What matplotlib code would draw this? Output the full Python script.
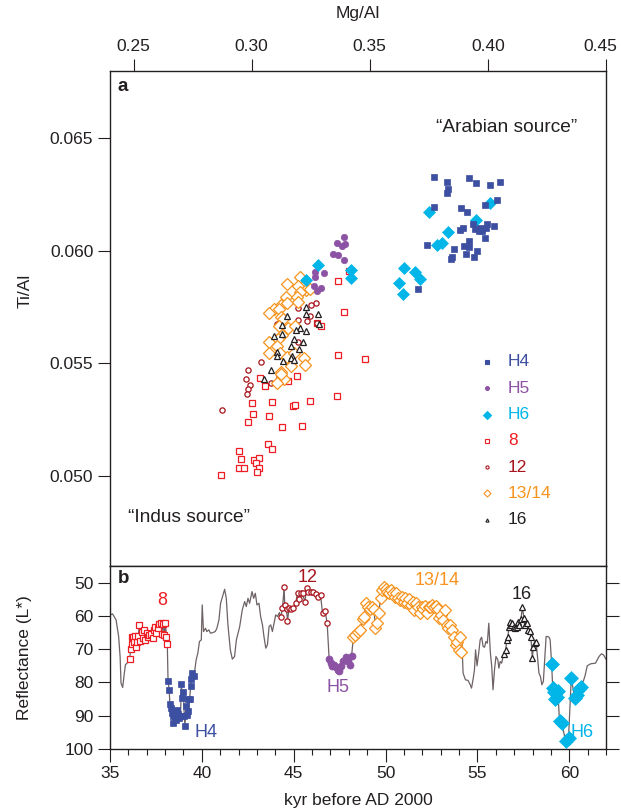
import matplotlib
matplotlib.use("Agg")
import matplotlib.pyplot as plt
import matplotlib.transforms as mtransforms
from matplotlib.ticker import MultipleLocator

plt.rcParams['font.family'] = ['Liberation Sans', 'DejaVu Sans']
plt.rcParams['font.size'] = 12.5

# colours for each group
c_h4 = '#3D4FA1'
c_h5 = '#8C52A3'
c_h6 = '#00B5E8'
c_8 = '#EE1D23'
c_12 = '#A8141C'
c_1314 = '#F7931E'
c_16 = '#231F20'
c_line = '#6D6264'
c_ink = '#231F20'

# ---- panel a: Mg/Al vs Ti/Al ----
h4_mg = [0.3773, 0.3827, 0.3831, 0.3825, 0.3922, 0.3951, 0.4007, 0.4050, 0.3773, 0.3884, 0.3913, 0.3989,
         0.4040, 0.3937, 0.3894, 0.3880, 0.3947, 0.3968, 0.3975, 0.3961, 0.3996, 0.3993, 0.4027, 0.3986,
         0.3918, 0.3897, 0.3922, 0.3744, 0.3855, 0.3955, 0.3908, 0.3942, 0.3848, 0.3845, 0.3702]
h4_ti = [0.0633, 0.06307, 0.06276, 0.06258, 0.06323, 0.0630, 0.06294, 0.06307, 0.06196, 0.0619, 0.06174, 0.06203,
         0.06227, 0.06117, 0.06103, 0.06092, 0.06095, 0.06103, 0.06087, 0.06087, 0.0612, 0.06103, 0.06111, 0.06059,
         0.06042, 0.06022, 0.06018, 0.06025, 0.0601, 0.05997, 0.05985, 0.05973, 0.05973, 0.05963, 0.05831]

h5_mg = [0.3389, 0.3361, 0.3393, 0.3382, 0.3346, 0.3365, 0.3392, 0.3266, 0.3307, 0.3269, 0.3262, 0.3293, 0.3277]
h5_ti = [0.06062, 0.06036, 0.06031, 0.06021, 0.05988, 0.05982, 0.05961, 0.05907, 0.05902, 0.05883, 0.05843,
         0.05835, 0.0582]

h6_mg = [0.3752, 0.3831, 0.3784, 0.3807, 0.3948, 0.4007, 0.3643, 0.3692, 0.3711, 0.3625, 0.3639, 0.3280,
         0.3228, 0.3421, 0.3421]
h6_ti = [0.06174, 0.06082, 0.06028, 0.06036, 0.06139, 0.06214, 0.05924, 0.05907, 0.05876, 0.05855, 0.05809,
         0.05935, 0.05872, 0.05914, 0.05878]

s8_mg = [0.3365, 0.3392, 0.3294, 0.3278, 0.3365, 0.3192, 0.3153, 0.3058, 0.3033, 0.3361, 0.3002, 0.3086,
         0.3174, 0.3184, 0.3245, 0.3006, 0.3075, 0.2985, 0.3128, 0.3215, 0.3071, 0.3086, 0.2948, 0.2955,
         0.3010, 0.3031, 0.3017, 0.2948, 0.2967, 0.3031, 0.3024, 0.2870, 0.3478, 0.3413]
s8_ti = [0.05865, 0.05727, 0.05665, 0.0568, 0.05535, 0.05442, 0.05421, 0.05401, 0.05433, 0.05353, 0.05326,
         0.05328, 0.05312, 0.05313, 0.05331, 0.05276, 0.05267, 0.0524, 0.05219, 0.05224, 0.05141, 0.05119,
         0.05111, 0.05077, 0.05071, 0.05081, 0.05056, 0.05037, 0.05037, 0.05034, 0.05018, 0.05003, 0.05518,
         0.05909]

s12_mg = [0.3274, 0.3252, 0.3195, 0.3245, 0.3232, 0.3198, 0.3108, 0.3276, 0.3194, 0.3041, 0.2985, 0.2976,
          0.2993, 0.2983, 0.2979, 0.3115, 0.3083, 0.2876]
s12_ti = [0.05769, 0.0576, 0.05745, 0.05709, 0.0569, 0.05694, 0.05675, 0.0568, 0.05596, 0.05506, 0.0547,
          0.0543, 0.05405, 0.05387, 0.05364, 0.05439, 0.05415, 0.05295]

s1314_mg = [0.3151, 0.3205, 0.3194, 0.3231, 0.3247, 0.3205, 0.3146, 0.3191, 0.3126, 0.3151, 0.3194, 0.3095,
            0.3115, 0.3075, 0.3123, 0.3134, 0.3117, 0.3153, 0.3184, 0.3129, 0.3113, 0.3072, 0.3109, 0.3075,
            0.3120, 0.3151, 0.3180, 0.3222, 0.3226, 0.3166, 0.3125, 0.3137, 0.3106, 0.3123]
s1314_ti = [0.05853, 0.05884, 0.05843, 0.05828, 0.0583, 0.05816, 0.05795, 0.05795, 0.0576, 0.05769, 0.05771,
            0.05742, 0.05742, 0.05722, 0.05706, 0.05697, 0.05665, 0.05657, 0.05668, 0.05626, 0.05608, 0.05593,
            0.05579, 0.05546, 0.05546, 0.05528, 0.05546, 0.05524, 0.05491, 0.05487, 0.05462, 0.0543, 0.05413,
            0.05454]

s16_mg = [0.3231, 0.3231, 0.3281, 0.3151, 0.3284, 0.3129, 0.3205, 0.3189, 0.3228, 0.3094, 0.3129, 0.3180,
          0.3219, 0.3167, 0.3202, 0.3106, 0.3108, 0.3171, 0.3167, 0.3181, 0.3133, 0.3083, 0.3050]
s16_ti = [0.05749, 0.0572, 0.0572, 0.05712, 0.05675, 0.05671, 0.05657, 0.0565, 0.05642, 0.05623, 0.05631,
          0.05608, 0.05596, 0.05576, 0.05564, 0.05549, 0.05531, 0.05531, 0.05524, 0.05516, 0.05509, 0.0547,
          0.05432]

# ---- panel b: reflectance record ----
gray_age = [35.00, 35.14, 35.33, 35.47, 35.55, 35.60, 35.69, 35.78, 35.84, 35.96, 36.03,
            39.69, 39.78, 39.87, 39.97, 40.02, 40.09, 40.20, 40.27, 40.38, 40.47, 40.60, 40.73, 40.82, 40.93,
            41.02, 41.15, 41.24, 41.33, 41.42, 41.55, 41.66, 41.78, 41.88, 42.06, 42.20, 42.33, 42.42, 42.51,
            42.60, 42.73, 42.82, 42.91, 43.00, 43.11, 43.20, 43.30, 43.38, 43.48, 43.57, 43.66, 43.75, 43.84,
            43.93, 44.02, 44.12, 44.22,
            54.16, 54.22, 54.35, 54.49, 54.61, 54.68, 54.76, 54.84, 54.90, 54.98, 55.07, 55.15, 55.23, 55.31,
            55.39, 55.46, 55.54, 55.62, 55.70, 55.78, 55.85, 55.93, 56.01, 56.11, 56.17, 56.24, 56.32, 56.40,
            58.27, 58.35, 58.43, 58.51, 58.59, 58.66, 58.74, 58.82, 58.90, 58.96,
            60.85, 60.98, 61.16, 61.43, 61.62, 61.75, 61.86, 62.0]
gray_L = [59.7, 59.4, 61.2, 66.2, 72.2, 80.2, 81.5, 77.2, 74.7, 74.0, 73.7,
          73.2, 71.2, 67.7, 67.2, 56.7, 64.7, 63.7, 64.7, 64.2, 65.2, 65.0, 64.7, 63.7, 61.2,
          56.2, 53.7, 52.0, 54.7, 62.7, 70.2, 73.0, 72.2, 67.2, 63.2, 58.2, 55.7, 57.2, 54.7,
          56.2, 52.7, 54.7, 53.2, 56.7, 56.2, 60.2, 62.7, 66.2, 69.7, 68.7, 63.2, 62.7, 64.7,
          62.2, 59.7, 60.2, 59.0,
          68.2, 77.2, 79.2, 79.4, 80.7, 81.7, 79.2, 76.2, 70.2, 75.0, 71.2, 67.2, 66.4, 69.2,
          69.4, 67.7, 68.2, 62.2, 70.7, 75.2, 82.2, 76.2, 72.2, 73.2, 75.7, 73.7, 74.2, 72.2,
          72.2, 77.2, 78.2, 80.7, 79.7, 73.2, 66.2, 66.2, 66.4, 67.2,
          78.2, 75.0, 74.4, 74.2, 72.2, 71.4, 71.7, 73.0]

age8 = [36.07, 36.13, 36.18, 36.22, 36.27, 36.31, 36.36, 36.41, 36.46, 36.54, 36.60, 36.66, 36.72, 36.78,
        36.85, 36.93, 37.01, 37.09, 37.15, 37.24, 37.32, 37.38, 37.46, 37.53, 37.60, 37.67, 37.75, 37.82,
        37.89, 37.96, 38.02, 38.07, 38.12]
L8 = [72.9, 70.0, 66.4, 68.4, 66.2, 67.8, 66.0, 69.2, 67.7, 66.0, 62.6, 67.5, 64.7, 66.7, 64.2, 67.2, 65.0,
      66.2, 65.7, 65.4, 66.7, 64.2, 63.2, 65.2, 63.7, 62.4, 62.2, 65.4, 62.4, 65.7, 62.2, 66.2, 68.4]

ageH4 = [38.16, 38.22, 38.26, 38.32, 38.36, 38.41, 38.45, 38.51, 38.55, 38.61, 38.65, 38.71, 38.77, 38.84,
         38.88, 38.94, 39.00, 39.04, 39.08, 39.14, 39.19, 39.23, 39.27, 39.33, 39.39, 39.43, 39.49, 39.57]
LH4 = [79.7, 82.2, 86.4, 87.7, 89.2, 90.2, 92.2, 88.7, 90.0, 91.2, 88.2, 89.4, 90.7, 90.2, 80.4, 84.7, 83.0,
       90.0, 93.0, 87.2, 89.7, 85.0, 88.7, 85.0, 81.2, 79.0, 77.2, 78.2]

age12 = [44.30, 44.39, 44.48, 44.51, 44.61, 44.66, 44.75, 44.84, 44.97, 45.11, 45.21, 45.30, 45.39, 45.48,
         45.61, 45.70, 45.79, 45.92, 46.06, 46.21, 46.33, 46.46, 46.57, 46.70, 46.82]
L12 = [60.4, 57.7, 51.4, 56.7, 58.0, 61.5, 57.7, 58.0, 57.7, 56.0, 53.2, 55.0, 53.2, 53.2, 55.9, 51.5, 52.7,
       52.7, 52.7, 53.5, 54.2, 53.7, 59.2, 58.4, 62.0]

ageH5 = [46.93, 47.03, 47.10, 47.21, 47.30, 47.39, 47.48, 47.59, 47.70, 47.84, 47.97, 48.06, 48.15]
LH5 = [73.1, 74.2, 75.0, 74.7, 75.4, 76.2, 76.7, 75.2, 73.7, 72.2, 73.7, 74.7, 72.0]

age1314 = [48.25, 48.36, 48.50, 48.60, 48.75, 48.83, 48.91, 49.03, 49.14, 49.24, 49.38, 49.44, 49.53, 49.63,
           49.73, 49.83, 49.90, 50.00, 50.10, 50.20, 50.29, 50.39, 50.49, 50.59, 50.68, 50.78, 50.88, 50.98,
           51.08, 51.17, 51.27, 51.37, 51.47, 51.56, 51.66, 51.76, 51.86, 51.96, 52.05, 52.15, 52.25, 52.34,
           52.44, 52.54, 52.64, 52.73, 52.83, 52.93, 53.03, 53.12, 53.22, 53.32, 53.42, 53.52, 53.61, 53.71,
           53.81, 53.90, 54.00, 54.06, 54.10]
L1314 = [66.4, 65.7, 64.7, 64.2, 61.0, 60.2, 56.2, 57.2, 58.0, 57.2, 58.0, 63.7, 62.2, 59.2, 54.7, 52.2, 51.2,
         52.0, 52.7, 53.2, 52.2, 53.2, 54.2, 53.2, 54.7, 55.2, 54.2, 55.7, 54.7, 56.2, 55.0, 56.7, 55.7, 58.2,
         56.2, 57.2, 59.2, 57.2, 58.0, 57.0, 59.0, 57.4, 57.2, 56.7, 57.2, 57.0, 58.0, 60.7, 59.7, 61.2, 58.2,
         62.7, 63.7, 62.7, 64.2, 66.2, 68.7, 67.7, 70.2, 66.2, 70.7]

age16 = [56.46, 56.54, 56.60, 56.66, 56.72, 56.79, 56.85, 56.91, 56.99, 57.07, 57.15, 57.23, 57.29, 57.37,
         57.45, 57.53, 57.60, 57.68, 57.76, 57.84, 57.91, 57.99, 58.05, 58.12, 58.19]
L16 = [71.4, 70.2, 67.2, 66.2, 63.2, 61.7, 62.7, 62.0, 63.2, 63.7, 63.2, 61.7, 62.7, 61.0, 57.2, 60.7, 62.7,
       62.2, 64.2, 64.4, 66.2, 72.7, 69.4, 68.2, 67.7]

ageH6 = [59.04, 59.10, 59.17, 59.23, 59.32, 59.38, 59.47, 59.59, 59.80, 59.96, 60.11, 60.30, 60.41, 60.54, 60.66]
LH6 = [74.4, 81.7, 83.0, 85.1, 84.5, 82.7, 91.7, 92.3, 97.5, 96.7, 78.7, 84.8, 83.7, 82.0, 81.3]

# style per group: (label, colour, marker, size, filled)
groups = [
    ("H4", c_h4, 's', 4.3, True),
    ("H5", c_h5, 'o', 4.6, True),
    ("H6", c_h6, 'D', 6.5, True),
    ("8", c_8, 's', 4.3, False),
    ("12", c_12, 'o', 3.8, False),
    ("13/14", c_1314, 'D', 6.0, False),
    ("16", c_16, '^', 3.8, False),
]
style = {g[0]: g[1:] for g in groups}


def mk(ax, x, y, key, scale=1.0, z=3):
    col, m, ms, filled = style[key]
    ax.plot(x, y, linestyle='none', marker=m, markersize=ms * scale,
            markerfacecolor=col if filled else 'white', markeredgecolor=col,
            markeredgewidth=0.5 if filled else 0.9, zorder=z)


fig = plt.figure(figsize=(6.21, 8.11), dpi=100)
ax_a = fig.add_axes([110 / 621, 1 - 566 / 811, 496 / 621, (566 - 70.7) / 811])
ax_b = fig.add_axes([110 / 621, 1 - 749 / 811, 496 / 621, (749 - 566) / 811])

# panel a points
mk(ax_a, s8_mg, s8_ti, "8", z=3)
mk(ax_a, s12_mg, s12_ti, "12", z=3)
mk(ax_a, s1314_mg, s1314_ti, "13/14", z=4)
mk(ax_a, s16_mg, s16_ti, "16", z=5)
mk(ax_a, h5_mg, h5_ti, "H5", z=5)
mk(ax_a, h6_mg, h6_ti, "H6", z=6)
mk(ax_a, h4_mg, h4_ti, "H4", z=6)

ax_a.set_xlim(0.24, 0.45)
ax_a.set_ylim(0.046, 0.068)
ax_a.set_xticks([0.25, 0.30, 0.35, 0.40, 0.45])
ax_a.set_yticks([0.050, 0.055, 0.060, 0.065])
ax_a.xaxis.set_major_formatter(plt.FormatStrFormatter('%.2f'))
ax_a.yaxis.set_major_formatter(plt.FormatStrFormatter('%.3f'))
ax_a.tick_params(axis='x', top=True, bottom=False, labeltop=True, labelbottom=False)
ax_a.set_xlabel("Mg/Al")
ax_a.xaxis.set_label_position('top')
ax_a.xaxis.label.set_va('center')
ax_a.xaxis.set_label_coords(0.5, (566 - 13) / 495.3)
ax_a.set_ylabel("Ti/Al")
ax_a.yaxis.label.set_va('center')
ax_a.yaxis.set_label_coords(-0.172, 0.555)

# legend drawn by hand
for i, (lab, col, m, ms, filled) in enumerate(groups):
    yy = 0.412 - i * 0.0531
    ax_a.plot([0.7595], [yy], transform=ax_a.transAxes, linestyle='none', marker=m,
              markersize=ms * 0.6, markerfacecolor=col if filled else 'white',
              markeredgecolor=col, markeredgewidth=0.8, clip_on=False)
    ax_a.text(0.8024, yy, lab, transform=ax_a.transAxes, color=col, va='center', ha='left')

ax_a.text(0.800, 0.886, "\u201cArabian source\u201d", transform=ax_a.transAxes, ha='center', va='center',
          color=c_ink, fontsize=13.8)
ax_a.text(0.159, 0.097, "\u201cIndus source\u201d", transform=ax_a.transAxes, ha='center', va='center',
          color=c_ink, fontsize=13.8)
ax_a.text(0.016, 0.969, "a", transform=ax_a.transAxes, ha='left', va='center', fontweight='bold',
          fontsize=13.5, color=c_ink)

# panel b: full record line through all samples
full = sorted(zip(gray_age + age8 + ageH4 + age12 + ageH5 + age1314 + age16 + ageH6,
                  gray_L + L8 + LH4 + L12 + LH5 + L1314 + L16 + LH6))
ax_b.plot([p[0] for p in full], [p[1] for p in full], color=c_line, linewidth=0.9, zorder=2)
mk(ax_b, age8, L8, "8", 0.95)
mk(ax_b, ageH4, LH4, "H4", 1.0)
mk(ax_b, age12, L12, "12", 1.0)
mk(ax_b, ageH5, LH5, "H5", 1.1)
mk(ax_b, age1314, L1314, "13/14", 1.05)
mk(ax_b, age16, L16, "16", 1.0)
mk(ax_b, ageH6, LH6, "H6", 1.15)

ax_b.set_xlim(35, 62)
ax_b.set_ylim(100, 45)
ax_b.set_xticks([35, 40, 45, 50, 55, 60])
ax_b.xaxis.set_minor_locator(MultipleLocator(1))
ax_b.set_yticks([50, 60, 70, 80, 90, 100])
ax_b.tick_params(axis='y', left=True, right=True, labelright=False)
ax_b.set_xlabel("kyr before AD 2000")
ax_b.xaxis.label.set_va('center')
ax_b.xaxis.set_label_coords(0.5, (749 - 800) / 183)
ax_b.set_ylabel("Reflectance (L*)")
ax_b.yaxis.label.set_va('center')
ax_b.yaxis.set_label_coords(-0.172, 0.497)

for txt, x, y, col in [("8", 37.85, 55.5, c_8), ("12", 45.77, 48.6, c_12), ("H4", 40.2, 95.1, c_h4),
                       ("H5", 47.4, 81.6, c_h5), ("13/14", 52.8, 49.5, c_1314), ("16", 57.4, 53.7, c_16),
                       ("H6", 60.7, 95.1, c_h6)]:
    ax_b.text(x, y, txt, color=col, ha='center', va='center', fontsize=13)
ax_b.text(0.016, 0.934, "b", transform=ax_b.transAxes, ha='left', va='center', fontweight='bold',
          fontsize=13.5, color=c_ink)

for ax in (ax_a, ax_b):
    for sp in ax.spines.values():
        sp.set_color(c_ink)
        sp.set_linewidth(1.0)
    ax.tick_params(which='major', direction='out', length=9, width=0.8, color=c_ink,
                   labelcolor=c_ink, pad=3, labelsize=12.5)
    ax.tick_params(which='minor', direction='out', length=4.3, width=0.8, color=c_ink)
    ax.xaxis.label.set_color(c_ink)
    ax.yaxis.label.set_color(c_ink)

# nudge the last top label so it stays inside the figure
fig.canvas.draw()
last = ax_a.get_xticklabels(which='major')[-1]
last.set_transform(last.get_transform() + mtransforms.ScaledTranslation(-4 / 72, 0, fig.dpi_scale_trans))

fig.savefig("out.png", dpi=100)
